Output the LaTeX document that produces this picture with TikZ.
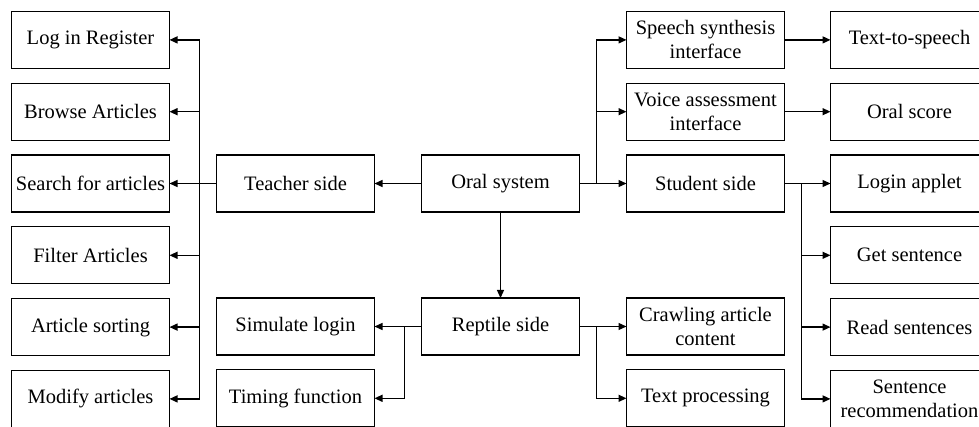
\documentclass[tikz,border=0pt]{standalone}
\usepackage{fontspec}
\setmainfont{Liberation Serif}
\usetikzlibrary{arrows.meta, positioning, calc}

\begin{document}
\begin{tikzpicture}[node distance=14.8pt and 47pt, font=\fontsize{20.5}{24}\selectfont]
    \tikzstyle{box} = [rectangle, minimum width=158pt, minimum height=57pt, inner sep=2pt, outer sep=0pt, text centered, align=center, draw=black, line width=1.3pt]
    \tikzstyle{arrow} = [line width=1.3pt,->,>={Triangle[length=8pt,width=7pt]}]

    \useasboundingbox (0,0) rectangle (979pt,-427pt);

    % middle column
    \node (oral) [box] at (500.5pt,-183.5pt) {Oral system};
    \node (reptile) [box, below=86pt of oral] {Reptile side};

    % teacher branch
    \node (teacher) [box, left=of oral] {Teacher side};
    \node (search) [box, left=of teacher] {Search for articles};
    \node (browse) [box, above=of search] {Browse Articles};
    \node (login) [box, above=of browse] {Log in Register};
    \node (filter) [box, below=of search] {Filter Articles};
    \node (sorting) [box, below=of filter] {Article sorting};
    \node (modify) [box, below=of sorting] {Modify articles};

    % reptile branch
    \node (simulate) [box, left=of reptile] {Simulate login};
    \node (timing) [box, below=of simulate] {Timing function};
    \node (crawl) [box, right=of reptile] {Crawling article\\content};
    \node (textproc) [box, below=of crawl] {Text processing};

    % student branch
    \node (student) [box, right=of oral] {Student side};
    \node (voice) [box, above=of student] {Voice assessment\\interface};
    \node (speech) [box, above=of voice] {Speech synthesis\\interface};
    \node (tts) [box, right=46pt of speech] {Text-to-speech};
    \node (score) [box, right=46pt of voice] {Oral score};
    \node (applet) [box, right=46pt of student] {Login applet};
    \node (getsent) [box, below=of applet] {Get sentence};
    \node (readsent) [box, below=of getsent] {Read sentences};
    \node (recommend) [box, below=of readsent] {Sentence\\recommendation};

    % junctions
    \coordinate (tj) at ($(teacher.west)+(-17pt,0)$);
    \coordinate (oj) at ($(oral.east)+(17pt,0)$);
    \coordinate (rlj) at ($(reptile.west)+(-17pt,0)$);
    \coordinate (rrj) at ($(reptile.east)+(17pt,0)$);
    \coordinate (sj) at ($(student.east)+(17pt,0)$);

    \draw [arrow] (oral) -- (teacher);
    \draw [arrow] (oral) -- (reptile);
    \draw [arrow] (speech) -- (tts);
    \draw [arrow] (voice) -- (score);

    \draw [line width=1.3pt] (teacher.west) -- (tj);
    \foreach \n in {login,browse,search,filter,sorting,modify}
        \draw [arrow] (tj) |- (\n.east);

    \draw [line width=1.3pt] (oral.east) -- (oj);
    \foreach \n in {speech,voice,student}
        \draw [arrow] (oj) |- (\n.west);

    \draw [line width=1.3pt] (reptile.west) -- (rlj);
    \foreach \n in {simulate,timing}
        \draw [arrow] (rlj) |- (\n.east);

    \draw [line width=1.3pt] (reptile.east) -- (rrj);
    \foreach \n in {crawl,textproc}
        \draw [arrow] (rrj) |- (\n.west);

    \draw [line width=1.3pt] (student.east) -- (sj);
    \foreach \n in {applet,getsent,readsent,recommend}
        \draw [arrow] (sj) |- (\n.west);
\end{tikzpicture}
\end{document}
